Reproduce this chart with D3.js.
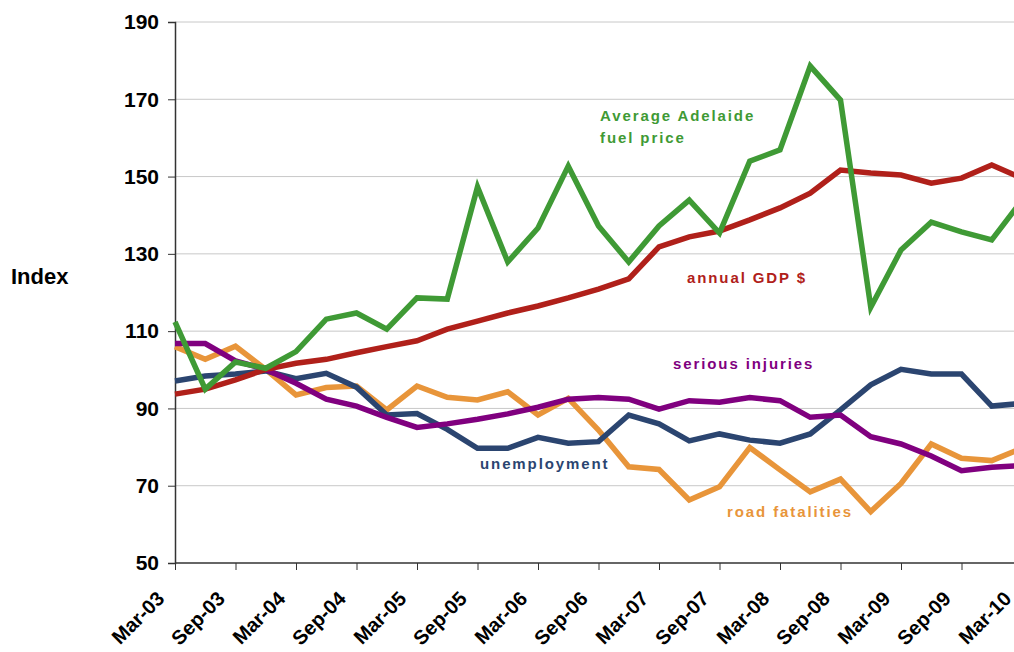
<!DOCTYPE html>
<html>
<head>
<meta charset="utf-8">
<script src="https://cdn.jsdelivr.net/npm/d3@7"></script>
<style>
  body { margin: 0; background: #fff; }
  text { font-family: Arial, "Liberation Sans", sans-serif; }
</style>
</head>
<body>
<div class="canvas"></div>
<script>
const [width, height] = [1014, 652];

// quarterly, Mar-03 .. Mar-10
const quarters = ['Mar-03','Jun-03','Sep-03','Dec-03','Mar-04','Jun-04','Sep-04','Dec-04',
  'Mar-05','Jun-05','Sep-05','Dec-05','Mar-06','Jun-06','Sep-06','Dec-06',
  'Mar-07','Jun-07','Sep-07','Dec-07','Mar-08','Jun-08','Sep-08','Dec-08',
  'Mar-09','Jun-09','Sep-09','Dec-09','Mar-10'];
const yTicks = [50, 70, 90, 110, 130, 150, 170, 190];

const fuelPrice = [112.4, 95, 102, 100.4, 104.7, 113.1, 114.7, 110.5, 118.6, 118.3,
  147.3, 127.9, 136.7, 152.7, 137.2, 127.9, 137.2, 143.9, 135.4, 154,
  156.9, 178.6, 169.8, 116.2, 131, 138.2, 135.7, 133.6, 143.9];
const gdp = [93.7, 95, 97.4, 100.1, 101.7, 102.7, 104.4, 106, 107.5, 110.5,
  112.6, 114.7, 116.5, 118.6, 120.9, 123.5, 131.8, 134.4, 135.9, 138.8,
  141.9, 145.7, 151.7, 150.9, 150.4, 148.3, 149.6, 153, 149.6];
const unemployment = [97.1, 98.4, 98.9, 99.7, 97.7, 99.1, 95.5, 88.3, 88.7, 84.6,
  79.7, 79.7, 82.5, 81, 81.4, 88.3, 86, 81.6, 83.4, 81.8,
  81, 83.4, 89.6, 96.1, 100.1, 98.9, 98.9, 90.6, 91.3];
const seriousInjuries = [106.8, 106.8, 102.3, 100.1, 96.5, 92.4, 90.6, 87.7, 85.1, 86,
  87.2, 88.6, 90.3, 92.4, 92.8, 92.4, 89.8, 92, 91.6, 92.8,
  92, 87.7, 88.3, 82.7, 80.8, 77.7, 73.9, 74.8, 75.2];
const roadFatalities = [106, 102.7, 106.1, 100.1, 93.5, 95.4, 95.8, 89.6, 95.8, 92.9,
  92.2, 94.3, 88.3, 92.6, 84.4, 74.9, 74.2, 66.3, 69.7, 79.9,
  74.1, 68.4, 71.7, 63.3, 70.6, 80.8, 77.1, 76.5, 79.7];

const series = [
  { name: 'road fatalities', values: roadFatalities, color: '#e8953a',
    label: ['road fatalities'], lx: 727, ly: 517 },
  { name: 'unemployment', values: unemployment, color: '#2b4570',
    label: ['unemployment'], lx: 480, ly: 469 },
  { name: 'serious injuries', values: seriousInjuries, color: '#80007f',
    label: ['serious injuries'], lx: 673, ly: 369 },
  { name: 'annual GDP $', values: gdp, color: '#b0201a',
    label: ['annual GDP $'], lx: 687, ly: 283 },
  { name: 'fuel price', values: fuelPrice, color: '#3f9a35',
    label: ['Average Adelaide', 'fuel price'], lx: 600, ly: 121 }
];

const margin = { left: 175, top: 22, bottom: 89 };
const plotBottom = height - margin.bottom;

const svg = d3.select('.canvas')
  .append('svg')
  .attr('width', width)
  .attr('height', height);

// chart runs slightly past the right edge of the picture
const x = d3.scalePoint()
  .domain(quarters)
  .range([margin.left, margin.left + 30.25 * (quarters.length - 1)]);

const y = d3.scaleLinear()
  .domain([50, 190])
  .range([plotBottom, margin.top]);

// grid
svg.append('g')
  .selectAll('line')
  .data(yTicks.slice(1))
  .enter()
  .append('line')
  .attr('x1', margin.left)
  .attr('x2', width)
  .attr('y1', d => y(d))
  .attr('y2', d => y(d))
  .attr('stroke', '#c8c8c8')
  .attr('stroke-width', 1);

// y axis
const yAxis = svg.append('g')
  .attr('transform', `translate(${margin.left},0)`)
  .call(d3.axisLeft(y).tickValues(yTicks).tickSize(7).tickPadding(9));
yAxis.select('.domain').attr('stroke', '#333').attr('stroke-width', 1.5);
yAxis.selectAll('.tick line').attr('stroke', '#333');
yAxis.selectAll('text')
  .attr('font-size', 21)
  .attr('font-weight', 'bold')
  .attr('fill', '#000');

// x axis
const xLabels = quarters.filter((d, i) => i % 2 === 0);
const xAxis = svg.append('g')
  .attr('transform', `translate(0,${plotBottom})`)
  .call(d3.axisBottom(x).tickValues(xLabels).tickSize(7).tickSizeOuter(0));
xAxis.select('.domain').attr('stroke', '#333').attr('stroke-width', 1.5)
  .attr('d', `M${margin.left},0H${width}`);
xAxis.selectAll('.tick line').attr('stroke', '#333');
xAxis.selectAll('text')
  .attr('font-size', 20)
  .attr('font-weight', 'bold')
  .attr('fill', '#000')
  .attr('text-anchor', 'end')
  .attr('dy', null)
  .attr('y', 0)
  .attr('transform', 'translate(-10,37) rotate(-45)');

svg.append('text')
  .attr('x', 11)
  .attr('y', 284)
  .attr('font-size', 22)
  .attr('font-weight', 'bold')
  .text('Index');

// lines
const line = d3.line()
  .x((d, i) => x(quarters[i]))
  .y(d => y(d));

svg.append('g')
  .selectAll('path')
  .data(series)
  .enter()
  .append('path')
  .attr('d', d => line(d.values))
  .attr('fill', 'none')
  .attr('stroke', d => d.color)
  .attr('stroke-width', 5.5)
  .attr('stroke-linejoin', 'miter');

// series labels
series.forEach(s => {
  const t = svg.append('text')
    .attr('x', s.lx)
    .attr('y', s.ly)
    .attr('font-size', 15)
    .attr('font-weight', 'bold')
    .attr('letter-spacing', 1.9)
    .attr('fill', s.color);
  s.label.forEach((l, i) => {
    t.append('tspan')
      .attr('x', s.lx)
      .attr('dy', i === 0 ? 0 : 22)
      .text(l);
  });
});
</script>
</body>
</html>
